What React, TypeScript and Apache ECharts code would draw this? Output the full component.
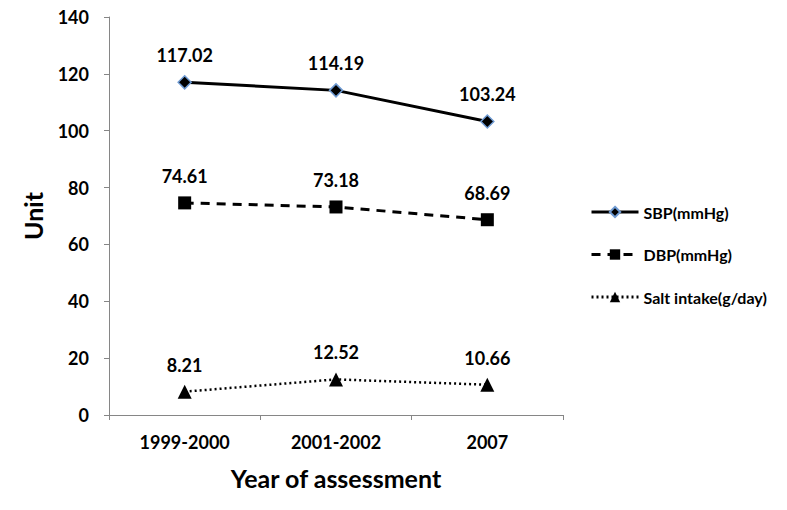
import React, { useEffect, useRef } from "react";
import * as echarts from "echarts";

const categories = ["1999-2000", "2001-2002", "2007"];
const sbp = [117.02, 114.19, 103.24];
const dbp = [74.61, 73.18, 68.69];
const salt = [8.21, 12.52, 10.66];
const yTicks = { min: 0, max: 140, interval: 20 };

const FONT = "Lato";

export default function App() {
  const ref = useRef<HTMLDivElement>(null);
  useEffect(() => {
    if (!ref.current) return;
    const chart = echarts.init(ref.current, null, { renderer: "svg" });
    const label = {
      show: true,
      position: "top",
      distance: 11,
      color: "#000",
      fontFamily: FONT,
      fontWeight: "bold",
      fontSize: 18,
      formatter: (p: any) => p.value.toFixed(2),
    };
    chart.setOption({
      animation: false,
      backgroundColor: "#fff",
      grid: { left: 109, right: 224, top: 17, bottom: 95, containLabel: false },
      legend: {
        orient: "vertical",
        left: 585,
        top: 199,
        itemWidth: 47,
        itemHeight: 13,
        itemGap: 26.5,
        lineStyle: { width: 3 },
        textStyle: { fontFamily: FONT, fontWeight: "bold", fontSize: 16, color: "#000" },
        data: ["SBP(mmHg)", "DBP(mmHg)", "Salt intake(g/day)"],
      },
      xAxis: {
        type: "category",
        data: categories,
        boundaryGap: true,
        name: "Year of assessment",
        nameLocation: "middle",
        nameGap: 50,
        nameTextStyle: { fontFamily: FONT, fontWeight: "bold", fontSize: 25, color: "#000" },
        axisLine: { lineStyle: { color: "#868686", width: 1 } },
        axisTick: { show: true, length: 5, inside: false, alignWithLabel: false, lineStyle: { color: "#868686" } },
        axisLabel: { margin: 18, fontFamily: FONT, fontWeight: "bold", fontSize: 18, color: "#000" },
        splitLine: { show: false },
      },
      yAxis: {
        type: "value",
        min: yTicks.min,
        max: yTicks.max,
        interval: yTicks.interval,
        name: "Unit",
        nameLocation: "middle",
        nameRotate: 90,
        nameGap: 64,
        nameTextStyle: { fontFamily: FONT, fontWeight: "bold", fontSize: 25, color: "#000" },
        axisLine: { show: true, lineStyle: { color: "#868686", width: 1 } },
        axisTick: { show: true, length: 5, inside: false, lineStyle: { color: "#868686" } },
        axisLabel: { margin: 20, fontFamily: FONT, fontWeight: "bold", fontSize: 18, color: "#000" },
        splitLine: { show: false },
      },
      series: [
        {
          name: "SBP(mmHg)",
          type: "line",
          data: sbp,
          symbol: "diamond",
          symbolSize: 13,
          itemStyle: { color: "#000", borderColor: "#6F9BD3", borderWidth: 1.5 },
          lineStyle: { color: "#000", width: 3, type: "solid" },
          label,
        },
        {
          name: "DBP(mmHg)",
          type: "line",
          data: dbp,
          symbol: "rect",
          symbolSize: 13,
          itemStyle: { color: "#000" },
          lineStyle: { color: "#000", width: 3, type: [9, 7] },
          label,
        },
        {
          name: "Salt intake(g/day)",
          type: "line",
          data: salt,
          symbol: "triangle",
          symbolSize: 14,
          itemStyle: { color: "#000" },
          lineStyle: { color: "#000", width: 2.5, type: [2, 3] },
          label,
        },
      ],
    });
    return () => chart.dispose();
  }, []);
  return <div ref={ref} style={{ width: 787, height: 510, margin: -8 }} />;
}
